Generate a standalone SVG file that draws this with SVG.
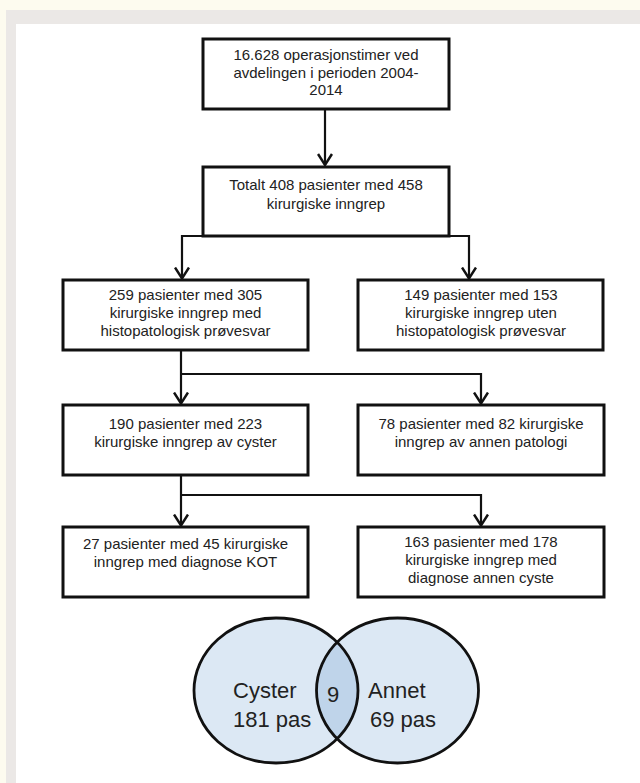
<svg xmlns="http://www.w3.org/2000/svg" width="640" height="783" viewBox="0 0 640 783">
  <style>
    .box { fill: #ffffff; stroke: #111111; stroke-width: 3; }
    .t { font-family: "Liberation Sans", Arial, sans-serif; font-size: 15px; fill: #222222; text-anchor: middle; }
    .v { font-family: "Liberation Sans", Arial, sans-serif; font-size: 22px; fill: #222222; }
    .conn { fill: none; stroke: #111111; stroke-width: 2.2; marker-end: url(#arrow); }
    .ell { fill: none; stroke: #111111; stroke-width: 2.8; }
  </style>
  <defs>
    <marker id="arrow" markerUnits="userSpaceOnUse" viewBox="0 0 16 16" markerWidth="16" markerHeight="16" refX="12" refY="8" orient="auto">
      <path d="M1,1 L12,8 L1,15" fill="none" stroke="#111111" stroke-width="2.5"/>
    </marker>
    <clipPath id="leftClip">
      <ellipse cx="276" cy="690.5" rx="82" ry="72.5"/>
    </clipPath>
  </defs>

  <!-- background -->
  <rect x="0" y="0" width="640" height="783" fill="#fdfbef"/>
  <rect x="6" y="10" width="634" height="773" fill="#ebe8e6"/>
  <rect x="16" y="24" width="624" height="759" fill="#ffffff"/>

  <g id="connectors">
    <path class="conn" d="M325,109 V165"/>
    <path class="conn" d="M326,236 H182 V278.5"/>
    <path class="conn" d="M326,236 H469 V278.5"/>
    <path class="conn" d="M181,350 V403.5"/>
    <path class="conn" d="M181,374 H481 V403.5"/>
    <path class="conn" d="M181,475 V525.5"/>
    <path class="conn" d="M181,495 H481 V525.5"/>
  </g>

  <g id="n1">
    <rect class="box" x="203" y="39" width="246" height="70"/>
    <text class="t" x="326" y="60">16.628 operasjonstimer ved</text>
    <text class="t" x="326" y="77.5">avdelingen i perioden 2004-</text>
    <text class="t" x="326" y="95">2014</text>
  </g>
  <g id="n2">
    <rect class="box" x="203" y="167" width="246" height="69"/>
    <text class="t" x="326" y="190">Totalt 408 pasienter med 458</text>
    <text class="t" x="326" y="209">kirurgiske inngrep</text>
  </g>
  <g id="n3">
    <rect class="box" x="63" y="280" width="245" height="70"/>
    <text class="t" x="185.5" y="300">259 pasienter med 305</text>
    <text class="t" x="185.5" y="318">kirurgiske inngrep med</text>
    <text class="t" x="185.5" y="336">histopatologisk prøvesvar</text>
  </g>
  <g id="n4">
    <rect class="box" x="358" y="280" width="245" height="70"/>
    <text class="t" x="481" y="300">149 pasienter med 153</text>
    <text class="t" x="481" y="318">kirurgiske inngrep uten</text>
    <text class="t" x="481" y="336">histopatologisk prøvesvar</text>
  </g>
  <g id="n5">
    <rect class="box" x="63" y="405" width="245" height="70"/>
    <text class="t" x="185.5" y="429">190 pasienter med 223</text>
    <text class="t" x="185.5" y="447">kirurgiske inngrep av cyster</text>
  </g>
  <g id="n6">
    <rect class="box" x="358" y="405" width="246" height="70"/>
    <text class="t" x="481" y="429">78 pasienter med 82 kirurgiske</text>
    <text class="t" x="481" y="447">inngrep av annen patologi</text>
  </g>
  <g id="n7">
    <rect class="box" x="63" y="527" width="245" height="70"/>
    <text class="t" x="185.5" y="549">27 pasienter med 45 kirurgiske</text>
    <text class="t" x="185.5" y="567">inngrep med diagnose KOT</text>
  </g>
  <g id="n8">
    <rect class="box" x="358" y="527" width="246" height="70"/>
    <text class="t" x="481" y="547">163 pasienter med 178</text>
    <text class="t" x="481" y="565">kirurgiske inngrep med</text>
    <text class="t" x="481" y="583">diagnose annen cyste</text>
  </g>

  <g id="venn">
    <ellipse cx="276" cy="690.5" rx="82" ry="72.5" fill="#dce8f4"/>
    <ellipse cx="397.5" cy="690.5" rx="81" ry="72.5" fill="#dce8f4"/>
    <ellipse cx="397.5" cy="690.5" rx="81" ry="72.5" fill="#bfd4ea" clip-path="url(#leftClip)"/>
    <ellipse class="ell" cx="276" cy="690.5" rx="82" ry="72.5"/>
    <ellipse class="ell" cx="397.5" cy="690.5" rx="81" ry="72.5"/>
    <text class="v" x="233" y="698">Cyster</text>
    <text class="v" x="233" y="727">181 pas</text>
    <text class="v" x="327" y="702">9</text>
    <text class="v" x="368" y="698">Annet</text>
    <text class="v" x="370" y="727">69 pas</text>
  </g>
</svg>
